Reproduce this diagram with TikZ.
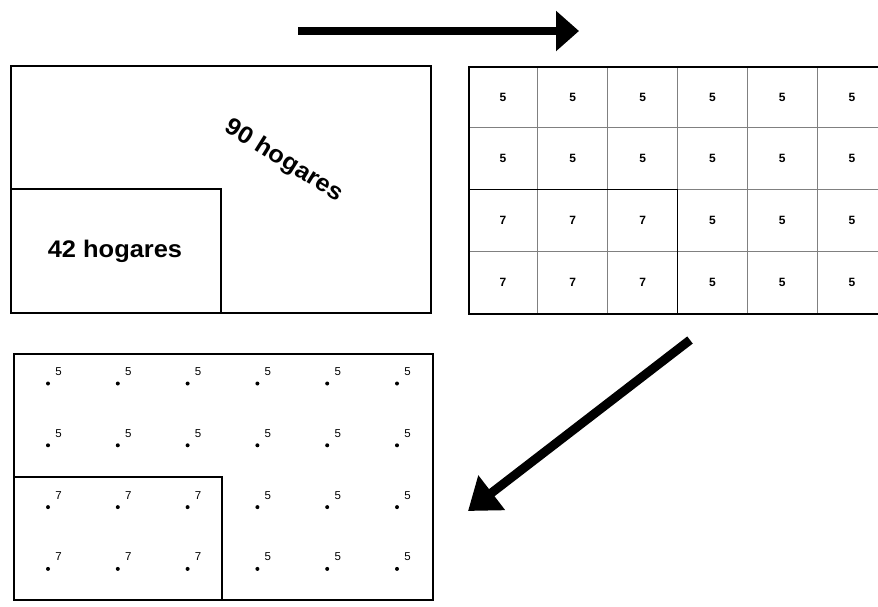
\documentclass[tikz,border=0pt]{standalone}
\usepackage{fontspec}
\setmainfont{Liberation Sans}
\newfontfamily\widesans[FakeStretch=1.06]{Liberation Sans}
\usetikzlibrary{arrows.meta}
\begin{document}
\begin{tikzpicture}[x=1pt,y=-1pt,
  box/.style={draw, line width=1.7pt},
  thinline/.style={draw=black!50, line width=0.7pt},
  big/.style={font=\widesans\fontsize{24}{28}\selectfont\bfseries, inner sep=0pt},
  cellnum/.style={font=\fontsize{12}{13}\selectfont\bfseries, inner sep=0pt},
  dotnum/.style={font=\fontsize{11.5}{12}\selectfont, inner sep=0pt},
  dotmark/.style={fill=black, circle, inner sep=0pt, minimum size=4pt},
  bigarrow/.style={line width=8pt, -{Triangle[length=23pt,width=39pt]}}]
\useasboundingbox (0,0) rectangle (878,606);

% top-left box
\node[box, rectangle, minimum width=420pt, minimum height=247pt, anchor=north west, inner sep=0pt] (tl) at (10,65) {};
\node[box, rectangle, minimum width=210pt, minimum height=124pt, anchor=south west, inner sep=0pt] (tlin) at (tl.south west) {};
\node[big] (n42) at (115,251) {42 hogares};
\node[big, rotate=-32] (n90) at (284,161) {90 hogares};

% top-right grid
\foreach \i in {1,...,5} \draw[thinline] (468+\i*69.8,66) -- (468+\i*69.8,313);
\foreach \j in {1,...,3} \draw[thinline] (468,66+\j*61.75) -- (887,66+\j*61.75);
\node[box, rectangle, minimum width=419pt, minimum height=247pt, anchor=north west, inner sep=0pt] (tr) at (468,66) {};
\draw[box] (468,189.5) -| (677.4,313);
\foreach \i in {0,...,5}{
  \foreach \j in {0,...,3}{
    \node[cellnum] (c\i\j) at (503+\i*69.8,97+\j*61.75) {\ifnum\j>1 \ifnum\i<3 7\else 5\fi\else 5\fi};
  }
}

% bottom-left box with points
\node[box, rectangle, minimum width=419pt, minimum height=246pt, anchor=north west, inner sep=0pt] (bl) at (13,353) {};
\draw[box] (13,477) -| (222,599);
\foreach \i in {0,...,5}{
  \foreach \j in {0,...,3}{
    \node[dotmark] (d\i\j) at (48+\i*69.8,383.5+\j*61.8) {};
    \node[dotnum] (l\i\j) at (58.5+\i*69.8,371.5+\j*61.8) {\ifnum\j>1 \ifnum\i<3 7\else 5\fi\else 5\fi};
  }
}

% arrows
\coordinate (a1s) at (298,31);
\coordinate (a1e) at (579,31);
\draw[bigarrow] (a1s) -- (a1e);
\coordinate (a2s) at (690,340);
\coordinate (a2e) at (468,511);
\draw[bigarrow, line width=9pt, -{Triangle[length=30pt,width=42pt]}] (a2s) -- (a2e);
\end{tikzpicture}
\end{document}
